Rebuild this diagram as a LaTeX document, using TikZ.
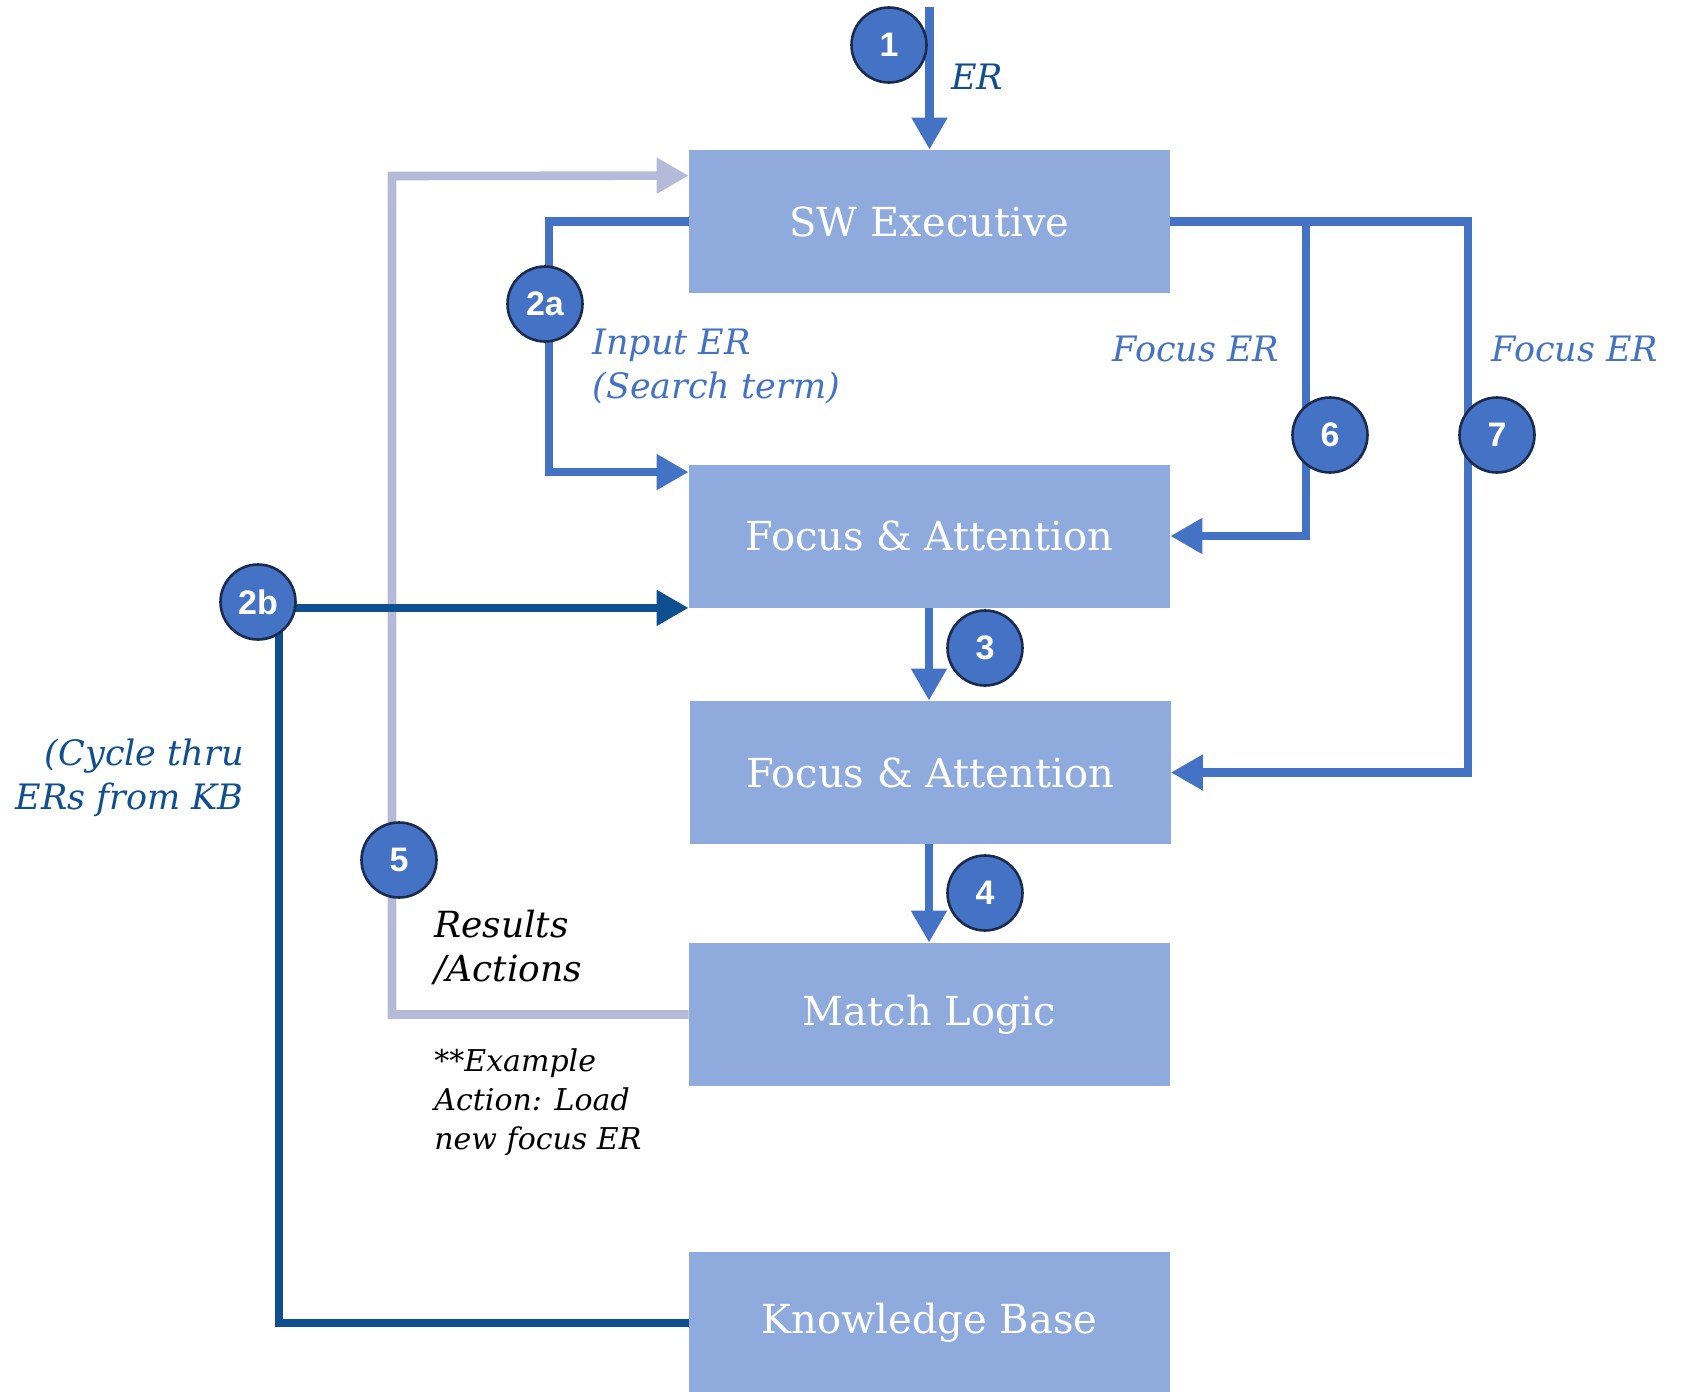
\documentclass[tikz,border=0pt]{standalone}
\usepackage{fontspec}
\setmainfont{DejaVu Serif}
\newfontfamily\numfont{Liberation Sans}
\usetikzlibrary{arrows.meta,calc}
\definecolor{boxfill}{HTML}{8FAADC}
\definecolor{flow}{HTML}{4472C4}
\definecolor{kbflow}{HTML}{0F4F90}
\definecolor{loopback}{HTML}{B5BAD9}
\definecolor{ring}{HTML}{1B2B4D}
\begin{document}
\begin{tikzpicture}[x=0.5pt,y=-0.5pt,
  stage/.style={fill=boxfill, minimum width=240.5pt, minimum height=71.5pt,
    inner sep=0pt, text=white, font=\fontsize{20}{24}\selectfont},
  badge/.style={circle, fill=flow, draw=ring, line width=1.3pt,
    minimum size=37.5pt, inner sep=0pt, text=white,
    font=\numfont\bfseries\fontsize{17}{17}\selectfont},
  tip/.style={-{Triangle[length=16pt,width=17pt]}},
  link/.style={draw=flow, line width=4.3pt},
  kblink/.style={draw=kbflow, line width=4.3pt},
  backlink/.style={draw=loopback, line width=4.3pt},
  note/.style={inner sep=0pt, font=\itshape\fontsize{17.5}{22}\selectfont, align=left},
]
\useasboundingbox (0,0) rectangle (1694,1392);

% processing stages
\node[stage] (sw)  at (929.5,221.5) {SW Executive};
\node[stage] (fa1) at (929.5,536)   {Focus \& Attention};
\node[stage] (fa2) at (930,772.5)   {Focus \& Attention};
\node[stage] (ml)  at (929.5,1014.5){Match Logic};
\node[stage, minimum height=71pt] (kb) at (929.5,1323) {Knowledge Base};

% incoming ER
\coordinate (erin) at (929.5,7);
\draw[link,tip] (erin) -- (sw.north);

% 2a: input ER to the first focus stage
\draw[link,tip] (sw.west) -- (549,221.5) |- ($(fa1.north west)+(0,8)$);

% 7: focus ER to the second focus stage, 6 branches off it
\coordinate (turn7) at (1468,221.5);
\coordinate (branch6) at (1306,217.2);
\draw[link,tip] (sw.east) -- (turn7) |- (fa2.east);
\draw[link,tip] (branch6) |- (fa1.east);

% 3 and 4: down the pipeline
\draw[link,tip] (fa1.south -| 929,0) -- (fa2.north -| 929,0);
\draw[link,tip] (fa2.south -| 929,0) -- (ml.north -| 929,0);

% 5: results / actions back to the executive
\draw[backlink,tip] (ml.west) -| (392,176) -- ($(sw.north west)+(0,26)$);

% 2b: cycling ERs from the knowledge base
\coordinate (kbturn) at (279,606);
\coordinate (cycstart) at (258,606);
\draw[kblink] (kb.west) -| (kbturn);
\draw[kblink,tip] (fa1.south west -| cycstart) -- (fa1.south west);

% step markers
\node[badge] (c1)  at (889,45)   {1};
\node[badge] (c2a) at (545,304)  {2a};
\node[badge] (c2b) at (258,602)  {2b};
\node[badge] (c3)  at (985,648)  {3};
\node[badge] (c4)  at (985,893)  {4};
\node[badge] (c5)  at (399,860)  {5};
\node[badge] (c6)  at (1330,435) {6};
\node[badge] (c7)  at (1497,435) {7};

% labels
\node[note, text=kbflow, anchor=west] (ler) at (951,77) {ER};
\node[note, text=flow, anchor=west] (lin) at (592,366) {Input ER\\(Search term)};
\node[note, text=flow] (lf6) at (1196,349) {Focus ER};
\node[note, text=flow] (lf7) at (1575,349) {Focus ER};
\node[note, text=kbflow, anchor=east, align=right] (lcyc) at (244,778) {(Cycle thru\\ERs from KB};
\node[note, text=black, anchor=west, font=\itshape\fontsize{18}{22}\selectfont] (lres) at (434,947) {Results\\/Actions};
\node[note, text=black, anchor=west, font=\itshape\fontsize{15}{19.5}\selectfont] (lex) at (434,1102) {**Example\\Action: Load\\new focus ER};
\end{tikzpicture}
\end{document}
